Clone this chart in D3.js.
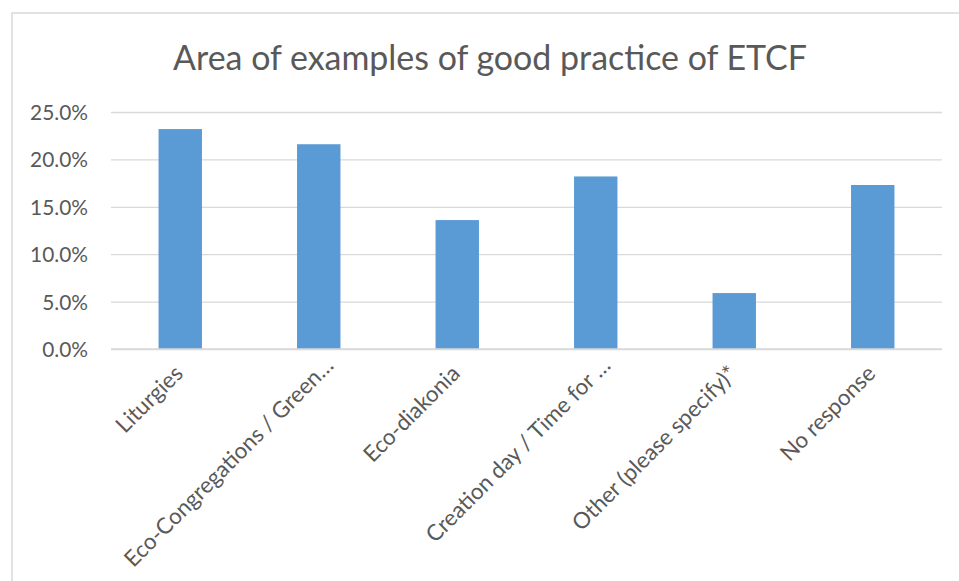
<!DOCTYPE html>
<html>
<head>
<meta charset="utf-8">
<script src="https://cdn.jsdelivr.net/npm/d3@7"></script>
<style>
  html, body { margin: 0; padding: 0; background: #fff; }
  svg { display: block; font-family: Lato, "Open Sans", sans-serif; }
</style>
</head>
<body>
<svg id="chart" width="959" height="581"></svg>
<script>
const title = "Area of examples of good practice of ETCF";
const categories = ["Liturgies", "Eco-Congregations / Green…", "Eco-diakonia", "Creation day / Time for …", "Other (please specify)*", "No response"];
const values = [0.232, 0.216, 0.136, 0.182, 0.059, 0.173];
const yTicks = [0, 0.05, 0.10, 0.15, 0.20, 0.25];

const svg = d3.select("#chart");
const W = 959, H = 581;
const plot = { left: 111, right: 942, top: 112, bottom: 349 };
const textColor = "#595959";
const gridColor = "#d9d9d9";
const barColor = "#5B9BD5";

// chart frame
svg.append("rect").attr("x", 12).attr("y", 13).attr("width", W + 10).attr("height", H + 10)
  .attr("fill", "#fff").attr("stroke", gridColor).attr("stroke-width", 1.5);

// helper: fit font size to target width
function fitSize(text, target, base) {
  const t = svg.append("text").attr("font-size", base).text(text);
  const w = t.node().getComputedTextLength();
  t.remove();
  return base * target / w;
}

const titleSize = fitSize(title, 634, 30);
const tickSize = fitSize("25.0%", 58, 20);
const xlabSize = fitSize(categories[4], 222, 20);

// title
svg.append("text").attr("x", (173 + 807) / 2).attr("y", 70)
  .attr("text-anchor", "middle").attr("font-size", titleSize).attr("fill", textColor)
  .text(title);

const x = d3.scaleBand().domain(categories).range([plot.left, plot.right]).padding(0);
const y = d3.scaleLinear().domain([0, 0.25]).range([plot.bottom, plot.top]);

// gridlines
const yAxis = d3.axisLeft(y).tickValues(yTicks).tickFormat(d3.format(".1%"))
  .tickSize(-(plot.right - plot.left)).tickPadding(23);
const gy = svg.append("g").attr("transform", `translate(${plot.left},0)`).call(yAxis);
gy.select(".domain").remove();
gy.selectAll(".tick line").attr("stroke", gridColor).attr("stroke-width", 1.3);
gy.selectAll(".tick text").attr("fill", textColor).attr("font-size", tickSize)
  .attr("font-family", "Lato, sans-serif").attr("dy", "0.36em");

// bars
const gap = 2.19;
const bw = x.step() / (1 + gap);
svg.append("g").selectAll("rect").data(values).join("rect")
  .attr("x", (d, i) => x(categories[i]) + x.bandwidth() / 2 - bw / 2)
  .attr("width", bw)
  .attr("y", d => y(d))
  .attr("height", d => y(0) - y(d))
  .attr("fill", barColor);

// baseline
svg.append("line").attr("x1", plot.left).attr("x2", plot.right)
  .attr("y1", y(0)).attr("y2", y(0)).attr("stroke", gridColor).attr("stroke-width", 1.3);

// x labels
const xAxis = d3.axisBottom(x).tickSize(0).tickPadding(0);
const gx = svg.append("g").attr("transform", `translate(0,${plot.bottom})`).call(xAxis);
gx.select(".domain").remove();
gx.selectAll(".tick text")
  .attr("font-size", xlabSize).attr("font-family", "Lato, sans-serif").attr("fill", textColor)
  .attr("text-anchor", "end").attr("dy", 0).attr("y", 0)
  .attr("transform", d => {
    const dx = d.endsWith("…") ? 16 : 4;
    const dy = d.endsWith("…") ? 18 : 26;
    return `translate(${dx},${dy}) rotate(-45)`;
  });
</script>
</body>
</html>
